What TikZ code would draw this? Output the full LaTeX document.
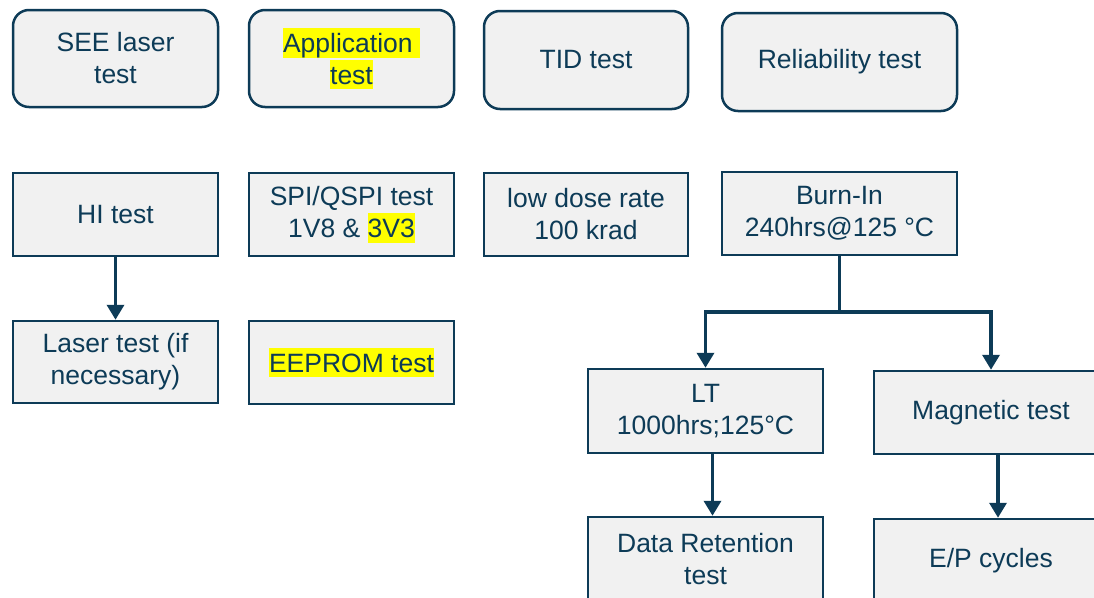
\documentclass[tikz,border=0pt]{standalone}
\usepackage{fontspec}
\setmainfont{Liberation Sans}
\usetikzlibrary{arrows.meta}
\definecolor{ln}{HTML}{0D3B57}
\definecolor{bx}{HTML}{F1F1F1}
\definecolor{hly}{HTML}{FFFF00}
\newcommand\myhl[1]{{\setlength{\fboxsep}{0pt}\colorbox{hly}{\rule[-0.2em]{0pt}{1.12em}#1}}}
\begin{document}
\begin{tikzpicture}[x=1pt,y=-1pt,
  box/.style={draw=ln, fill=bx, line width=2.5pt, text=ln,
    font=\fontsize{26.5}{32}\selectfont, align=center, inner sep=0pt},
  rbox/.style={box, rounded corners=16pt},
  conn/.style={draw=ln, line width=3.5pt},
  arr/.style={conn, -{Triangle[length=15pt,width=17pt]}}]
\useasboundingbox (0,0) rectangle (1094,597);
\clip (0,0) rectangle (1094,597);
% top row
\node[rbox, minimum width=205, minimum height=97] (see) at (115.5,58.5) {SEE laser\\test};
\node[rbox, minimum width=205, minimum height=97] (app) at (351.5,58.5) {\myhl{Application\ }\\\myhl{test}};
\node[rbox, minimum width=204, minimum height=98] (tid) at (586,60) {TID test};
\node[rbox, minimum width=235, minimum height=98] (rel) at (839.5,62) {Reliability test};
% second row
\node[box, minimum width=205, minimum height=83] (hi) at (115.5,214.5) {HI test};
\node[box, minimum width=205, minimum height=83] (spi) at (351.5,214.5) {SPI/QSPI test\\1V8 \& \myhl{3V3}};
\node[box, minimum width=204, minimum height=83] (ldr) at (586,214.5) {low dose rate\\100 krad};
\node[box, minimum width=235, minimum height=83] (burn) at (839.5,213.5) {Burn-In\\240hrs@125 °C};
% third row
\node[box, minimum width=205, minimum height=82] (laser) at (115.5,362) {Laser test (if\\necessary)};
\node[box, minimum width=205, minimum height=83] (eeprom) at (351.5,362.5) {\myhl{EEPROM test}};
\node[box, minimum width=235, minimum height=84] (lt) at (705.5,411) {LT\\1000hrs;125°C};
\node[box, minimum width=234, minimum height=83] (mag) at (991,412.5) {Magnetic test};
% bottom row
\node[box, minimum width=235, minimum height=84] (dr) at (705.5,559) {Data Retention\\test};
\node[box, minimum width=234, minimum height=84] (ep) at (991,561) {E/P cycles};
% connectors
\draw[arr] (hi) -- (laser);
\coordinate (j) at (839.5,312);
\draw[conn] (burn.south) -- (j);
\draw[arr] (j) -| (lt.north);
\draw[arr] (j) -| (mag.north);
\draw[arr] ([xshift=7pt]lt.south) -- ([xshift=7pt]dr.north);
\draw[arr] ([xshift=7pt]mag.south) -- ([xshift=7pt]ep.north);
\end{tikzpicture}
\end{document}
